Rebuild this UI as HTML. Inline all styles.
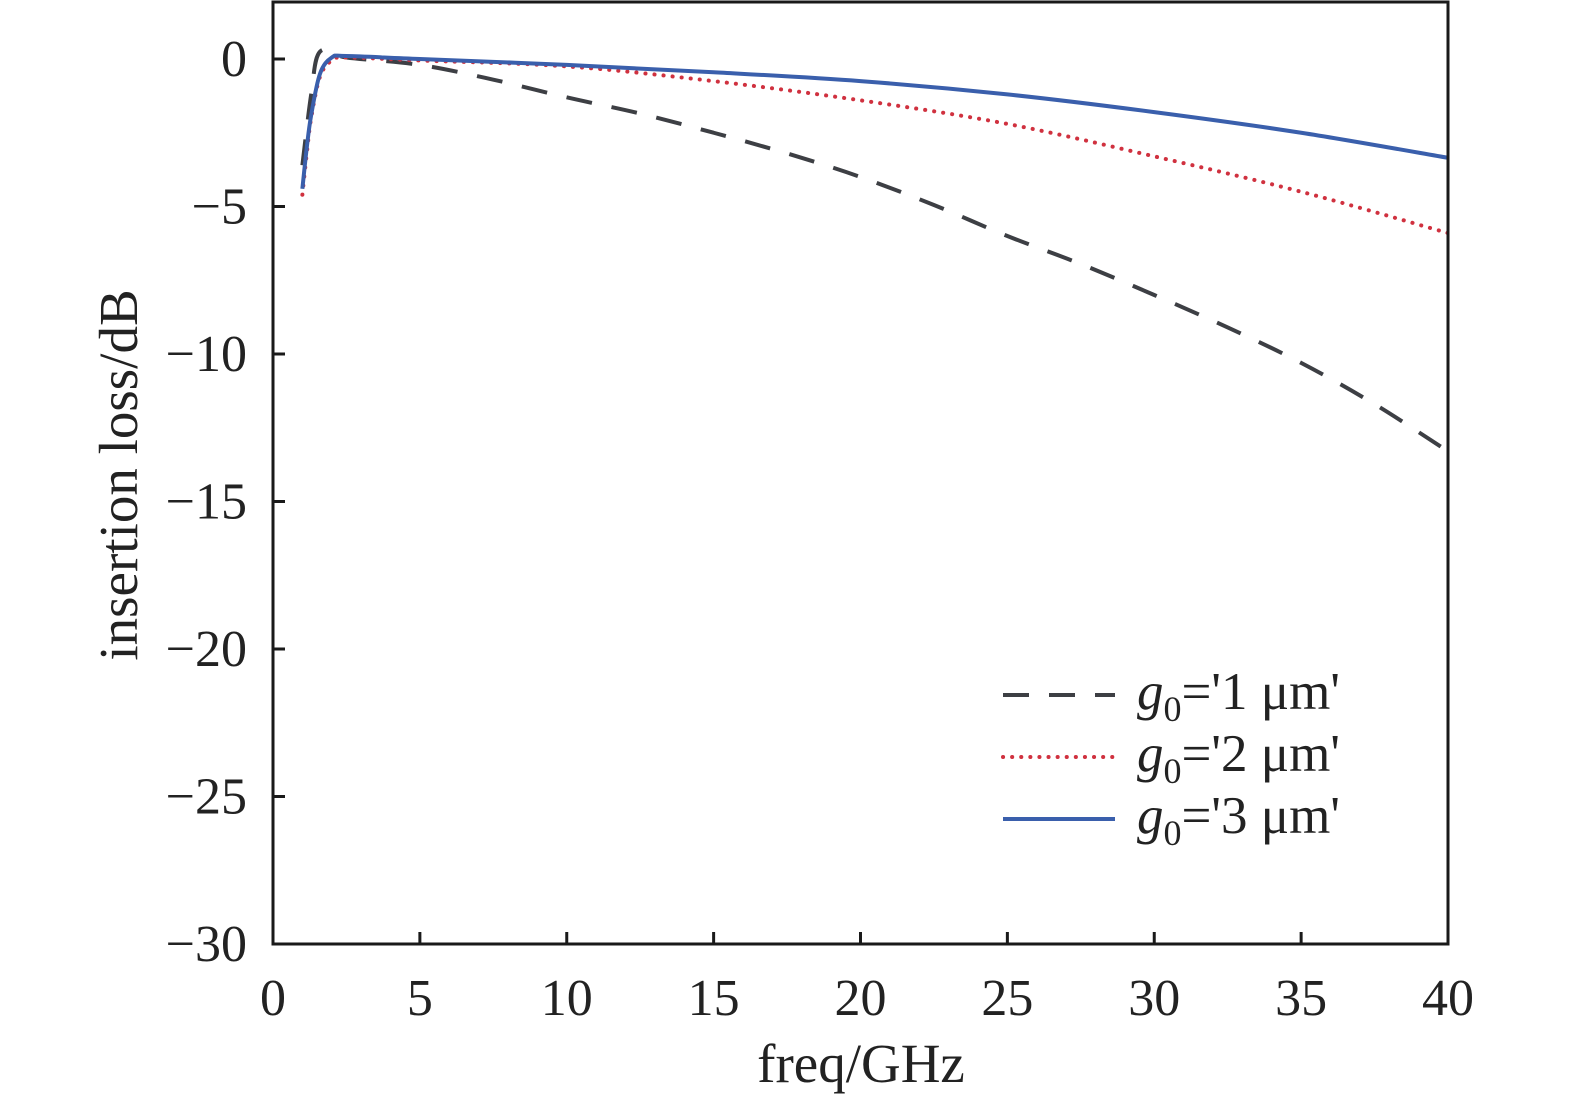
<!DOCTYPE html>
<html><head><meta charset="utf-8"><style>
body{margin:0;background:#fff}
svg text{font-family:"Liberation Serif",serif;fill:#222}
</style></head><body>
<svg id="c" width="1575" height="1103" xmlns="http://www.w3.org/2000/svg">
</svg>
<script>
const xTicks=[0,5,10,15,20,25,30,35,40];
const yTicks=[0,-5,-10,-15,-20,-25,-30];
const freqs1=[1.0,1.3,1.6,2.5,5,7.5,10,12.5,15,17.5,20,22.5,25,27.5,30,32.5,35,37.5,40];
const loss1=[-3.6,-1.2,0.25,0.05,-0.2,-0.7,-1.3,-1.85,-2.5,-3.2,-4.0,-4.95,-6.0,-6.95,-8.0,-9.1,-10.3,-11.7,-13.3];
const freqs2=[1.0,1.15,1.3,1.6,2.0,2.5,5,10,15,20,25,30,35,40];
const loss2=[-4.6,-3.2,-2.0,-0.6,-0.05,0.05,-0.05,-0.25,-0.75,-1.4,-2.2,-3.3,-4.5,-5.9];
const freqs3=[1.0,1.15,1.3,1.6,2.0,2.5,5,10,15,20,25,30,35,40];
const loss3=[-4.4,-3.0,-1.9,-0.5,0.05,0.1,0.0,-0.2,-0.45,-0.75,-1.2,-1.8,-2.5,-3.35];
const legendLabels=["1","2","3"];

const X0=273,X1=1448,Y0=59,Y1=944;
const sx=v=>X0+(v-0)/40*(X1-X0);
const sy=v=>Y0+(0-v)/30*(Y1-Y0);
const svg=document.getElementById('c');
const NS='http://www.w3.org/2000/svg';
function mk(t,a,p){const e=document.createElementNS(NS,t);for(const k in a)e.setAttribute(k,a[k]);(p||svg).appendChild(e);return e;}

function path(xs,ys){
  const P=xs.map((x,i)=>[sx(x),sy(ys[i])]);
  let d='M'+P[0][0]+','+P[0][1];
  for(let i=0;i<P.length-1;i++){
    const p0=P[Math.max(0,i-1)],p1=P[i],p2=P[i+1],p3=P[Math.min(P.length-1,i+2)];
    const c1=[p1[0]+(p2[0]-p0[0])/6,p1[1]+(p2[1]-p0[1])/6];
    const c2=[p2[0]-(p3[0]-p1[0])/6,p2[1]-(p3[1]-p1[1])/6];
    d+=`C${c1[0]},${c1[1]} ${c2[0]},${c2[1]} ${p2[0]},${p2[1]}`;
  }
  return d;
}
const clip=mk('clipPath',{id:'pc'});mk('rect',{x:X0,y:2,width:X1-X0,height:Y1-2},clip);

let e;
e=mk('path',{d:path(freqs1,loss1),fill:'none',stroke:'#3d3f44','stroke-width':4,'stroke-dasharray':'26,20','clip-path':'url(#pc)'});


e=mk('path',{d:path(freqs2,loss2),fill:'none',stroke:'#d0313f','stroke-width':4,'stroke-dasharray':'0.1,9','stroke-linecap':'round','clip-path':'url(#pc)'});


e=mk('path',{d:path(freqs3,loss3),fill:'none',stroke:'#3a5fac','stroke-width':4,'clip-path':'url(#pc)'});



e=mk('rect',{x:X0,y:2,width:X1-X0,height:Y1-2,fill:'none',stroke:'#1a1a1a','stroke-width':3});



xTicks.forEach(v=>{
  mk('line',{x1:sx(v),x2:sx(v),y1:Y1,y2:Y1-12,stroke:'#1a1a1a','stroke-width':3});
  e=mk('text',{x:sx(v),y:1015,'text-anchor':'middle','font-size':52});
  e.textContent=v;
  
  
});
yTicks.forEach(v=>{
  mk('line',{x1:X0,x2:X0+12,y1:sy(v),y2:sy(v),stroke:'#1a1a1a','stroke-width':3});
  e=mk('text',{x:247,y:sy(v)+17,'text-anchor':'end','font-size':52});
  e.textContent=v<0?'\u2212'+(-v):v;
  
  
});
e=mk('text',{x:861,y:1082,'text-anchor':'middle','font-size':55});
e.textContent='freq/GHz';


e=mk('text',{x:0,y:0,'text-anchor':'middle','font-size':55,transform:'translate(137,475) rotate(-90)'});
e.textContent='insertion loss/dB';



const styles=[{s:'#3d3f44',d:'26,20',c:'butt'},{s:'#d0313f',d:'0.1,9',c:'round'},{s:'#3a5fac',d:'none',c:'butt'}];
legendLabels.forEach((l,i)=>{
  const y=695+i*62;
  const g=mk('g',{});
  
  
  mk('line',{x1:1003,x2:1115,y1:y,y2:y,stroke:styles[i].s,'stroke-width':4,'stroke-dasharray':styles[i].d,'stroke-linecap':styles[i].c},g);
  const t=mk('text',{x:1137,y:y+14,'font-size':53},g);
  t.innerHTML=`<tspan font-style="italic">g</tspan><tspan font-size="36" dy="12">0</tspan><tspan dy="-12">='${l} \u03bcm'</tspan>`;
});
</script>
</body></html>
